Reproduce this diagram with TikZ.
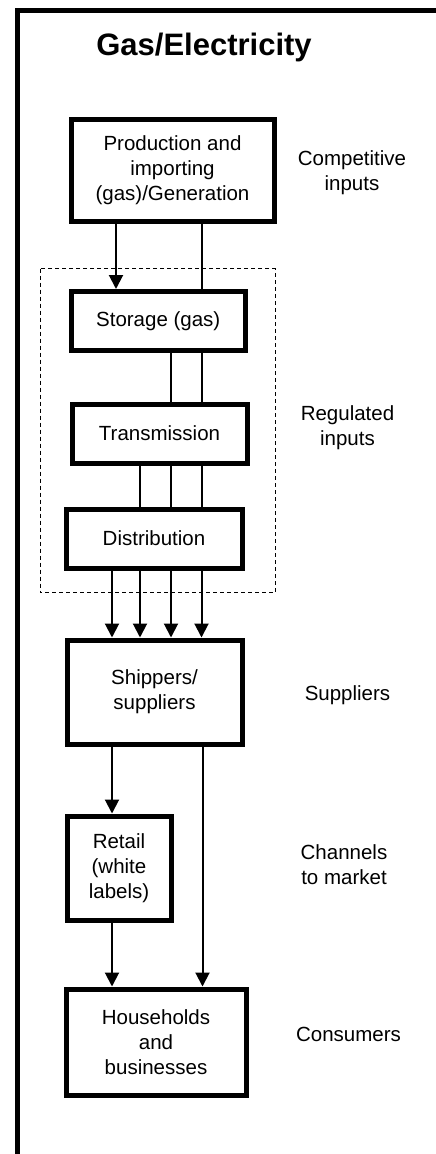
\documentclass[tikz,border=0pt]{standalone}
\usepackage{fontspec}
\setmainfont{Liberation Sans}
\usetikzlibrary{arrows.meta,calc}
\begin{document}
\begin{tikzpicture}[x=1pt,y=-1pt,
  txt/.style={font=\fontsize{20.5}{25}\selectfont},
  box/.style={draw, rectangle, line width=5pt, align=center, inner sep=0pt, txt},
  side/.style={align=center, inner sep=0pt, txt},
  link/.style={line width=2pt},
  flow/.style={line width=2pt, -{Triangle[length=14pt,width=14pt]}},
  region/.style={draw, line width=1pt, dash pattern=on 4pt off 3pt}
  ]
  \useasboundingbox (0,0) rectangle (436,1154);

  % open frame: left and top edges only
  \draw[line width=5.5pt, line join=miter] (17.5,1154) -- (17.5,10.25) -- (436,10.25);

  % title
  \node[anchor=base, inner sep=0pt, font=\fontsize{31}{36}\selectfont\bfseries] (title) at (204,55) {Gas/Electricity};

  % regulated block outline
  \draw[region] (40,268.5) rectangle (275,592.5);

  % value chain boxes
  \node[box, minimum width=203pt, minimum height=102.5pt] (prod) at (172.5,170.25) {Production and\\importing\\(gas)/Generation};
  \node[box, minimum width=174.5pt, minimum height=59pt] (stor) at (158.25,321) {Storage (gas)};
  \node[box, minimum width=175pt, minimum height=59pt] (trans) at (159.5,433.5) {Transmission};
  \node[box, minimum width=176pt, minimum height=59pt] (dist) at (154,538.5) {Distribution};
  \node[box, minimum width=175pt, minimum height=104pt] (ship) at (154.5,692) {Shippers/\\suppliers};
  \node[box, minimum width=104pt, minimum height=104pt] (retail) at (119,868) {Retail\\(white\\labels)};
  \node[box, minimum width=180pt, minimum height=106pt] (house) at (156,1042) {Households\\and\\businesses};

  % stage labels
  \node[side] (lcomp) at (352,173) {Competitive\\inputs};
  \node[side] (lreg) at (347.5,428) {Regulated\\inputs};
  \node[side] (lsup) at (347.5,695) {Suppliers};
  \node[side] (lchan) at (344,865) {Channels\\to market};
  \node[side] (lcons) at (348.5,1034) {Consumers};

  % connector columns
  \coordinate (colA) at (116,0);
  \coordinate (c1) at (112,0);
  \coordinate (c2) at (140,0);
  \coordinate (c3) at (171,0);
  \coordinate (c4) at (201.5,0);
  \coordinate (c5) at (202.5,0);

  % production to storage
  \draw[flow] (prod.south -| colA) -- (stor.north -| colA);
  \draw[link] (prod.south -| c4) -- (stor.north -| c4);

  % storage to transmission
  \draw[link] (stor.south -| c3) -- (trans.north -| c3);
  \draw[link] (stor.south -| c4) -- (trans.north -| c4);

  % transmission to distribution
  \draw[link] (trans.south -| c2) -- (dist.north -| c2);
  \draw[link] (trans.south -| c3) -- (dist.north -| c3);
  \draw[link] (trans.south -| c4) -- (dist.north -| c4);

  % distribution to shippers
  \draw[flow] (dist.south -| c1) -- (ship.north -| c1);
  \draw[flow] (dist.south -| c2) -- (ship.north -| c2);
  \draw[flow] (dist.south -| c3) -- (ship.north -| c3);
  \draw[flow] (dist.south -| c4) -- (ship.north -| c4);

  % shippers to retail and consumers
  \draw[flow] (ship.south -| c1) -- (retail.north -| c1);
  \draw[flow] (ship.south -| c5) -- (house.north -| c5);
  \draw[flow] (retail.south -| c1) -- (house.north -| c1);
\end{tikzpicture}
\end{document}
